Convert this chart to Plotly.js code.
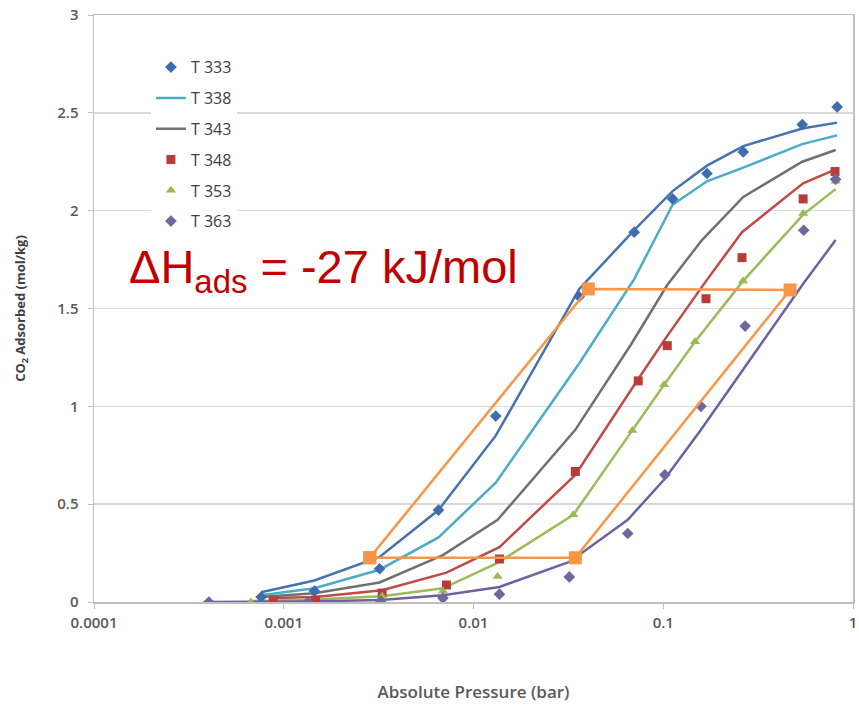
<!DOCTYPE html>
<html>
<head>
<meta charset="utf-8">
<script src="https://cdn.plot.ly/plotly-3.0.1.min.js"></script>
<style>
  html, body { margin: 0; padding: 0; background: #ffffff; }
  #chart { width: 859px; height: 710px; }
</style>
</head>
<body>
<div id="chart"></div>
<script>
// ---- data ----
const seriesNames = ["T 333", "T 338", "T 343", "T 348", "T 353", "T 363"];
const tickVals = [0.0001, 0.001, 0.01, 0.1, 1];
const tickText = ["0.0001", "0.001", "0.01", "0.1", "1"];

// measured points
const p333 = [0.00076, 0.00145, 0.0032, 0.00654, 0.0131, 0.0361, 0.0703, 0.112, 0.17, 0.264, 0.54, 0.825];
const q333 = [0.025, 0.056, 0.17, 0.47, 0.95, 1.56, 1.89, 2.06, 2.19, 2.30, 2.44, 2.53];
const p348 = [0.00088, 0.00147, 0.0033, 0.0072, 0.0137, 0.0344, 0.0738, 0.105, 0.168, 0.26, 0.546, 0.804];
const q348 = [0.005, 0.01, 0.046, 0.087, 0.22, 0.667, 1.13, 1.31, 1.55, 1.76, 2.06, 2.20];
const p353 = [0.00067, 0.00134, 0.0033, 0.0069, 0.0134, 0.0336, 0.0687, 0.101, 0.147, 0.263, 0.546, 0.81];
const q353 = [0.0, 0.0, 0.03, 0.056, 0.13, 0.446, 0.877, 1.11, 1.33, 1.64, 1.985, 2.15];
const p363 = [0.000403, 0.00134, 0.00324, 0.0069, 0.0137, 0.032, 0.065, 0.102, 0.158, 0.27, 0.55, 0.81];
const q363 = [0.0, 0.0, 0.005, 0.02, 0.04, 0.128, 0.35, 0.65, 1.0, 1.41, 1.90, 2.16];

// fitted isotherm lines
const fx333 = [0.00076, 0.00145, 0.0032, 0.00654, 0.0131, 0.0361, 0.0703, 0.112, 0.17, 0.264, 0.54, 0.825];
const fy333 = [0.05, 0.11, 0.23, 0.47, 0.85, 1.60, 1.90, 2.10, 2.23, 2.33, 2.42, 2.45];
const fx338 = [0.00076, 0.00145, 0.0032, 0.00654, 0.0131, 0.0361, 0.0703, 0.112, 0.17, 0.264, 0.54, 0.825];
const fy338 = [0.035, 0.07, 0.165, 0.33, 0.61, 1.22, 1.65, 2.03, 2.15, 2.22, 2.34, 2.385];
const fx343 = [0.00076, 0.00145, 0.0032, 0.0069, 0.0134, 0.0344, 0.068, 0.105, 0.16, 0.264, 0.54, 0.81];
const fy343 = [0.025, 0.045, 0.10, 0.24, 0.42, 0.88, 1.32, 1.62, 1.85, 2.07, 2.25, 2.31];
const fx348 = [0.00088, 0.00147, 0.0033, 0.0072, 0.0137, 0.0344, 0.0738, 0.105, 0.168, 0.26, 0.546, 0.804];
const fy348 = [0.02, 0.025, 0.06, 0.15, 0.28, 0.65, 1.14, 1.36, 1.64, 1.89, 2.14, 2.21];
const fx353 = [0.00067, 0.00134, 0.0033, 0.0069, 0.0134, 0.0336, 0.0687, 0.101, 0.147, 0.263, 0.546, 0.81];
const fy353 = [0.005, 0.012, 0.03, 0.07, 0.20, 0.446, 0.877, 1.11, 1.33, 1.64, 1.98, 2.11];
const fx363 = [0.000403, 0.00134, 0.00324, 0.0069, 0.0137, 0.032, 0.065, 0.102, 0.158, 0.27, 0.55, 0.81];
const fy363 = [0.0, 0.003, 0.01, 0.035, 0.077, 0.205, 0.42, 0.63, 0.88, 1.20, 1.63, 1.85];

// isosteric construction (orange parallelogram)
const isoX = [0.00284, 0.0403, 0.466, 0.0344, 0.00284];
const isoY = [0.226, 1.60, 1.595, 0.226, 0.226];

const annotText = "\u0394H<sub>ads</sub> = -27 kJ/mol";

// ---- styling ----
const C = {
  blue: "#4572B0", teal: "#4BACC6", gray: "#707070",
  red: "#BE4B48", green: "#9BBB59", purple: "#7060A0", orange: "#F79646"
};

function line(x, y, color, name, show, rank) {
  return {
    type: "scatter", mode: "lines", x: x, y: y, name: name,
    line: { color: color, width: 2.5 },
    showlegend: show, legendgroup: name, legendrank: rank, hoverinfo: "skip"
  };
}
function pts(x, y, color, symbol, name, rank, size) {
  return {
    type: "scatter", mode: "markers", x: x, y: y, name: name,
    marker: { color: color, symbol: symbol, size: size },
    showlegend: true, legendgroup: name, legendrank: rank
  };
}

const traces = [
  line(fx333, fy333, C.blue, seriesNames[0], false, 1),
  line(fx338, fy338, C.teal, seriesNames[1], true, 2),
  line(fx343, fy343, C.gray, seriesNames[2], true, 3),
  line(fx348, fy348, C.red, seriesNames[3], false, 4),
  line(fx353, fy353, C.green, seriesNames[4], false, 5),
  line(fx363, fy363, C.purple, seriesNames[5], false, 6),
  pts(p333, q333, "#3E6DAE", "diamond", seriesNames[0], 1, 9),
  pts(p348, q348, "#B83C3A", "square", seriesNames[3], 4, 9),
  pts(p353, q353, "#98B954", "triangle-up", seriesNames[4], 5, 9),
  pts(p363, q363, "#6C6A9C", "diamond", seriesNames[5], 6, 9),
  {
    type: "scatter", mode: "lines+markers", x: isoX, y: isoY,
    line: { color: C.orange, width: 2.5 },
    marker: { color: C.orange, symbol: "square", size: 13 },
    showlegend: false, hoverinfo: "skip"
  }
];

const layout = {
  width: 859, height: 710,
  margin: { l: 94, r: 6, t: 15, b: 108 },
  paper_bgcolor: "#ffffff", plot_bgcolor: "#ffffff",
  font: { family: "Open Sans, sans-serif", color: "#595959", size: 14 },
  showlegend: true,
  legend: {
    x: 0.075, y: 0.94, xanchor: "left", yanchor: "top",
    bgcolor: "#ffffff", borderwidth: 0,
    traceorder: "grouped", tracegroupgap: 7,
    font: { size: 16, color: "#404040" }
  },
  xaxis: {
    type: "log", range: [-4, 0],
    tickvals: tickVals, ticktext: tickText,
    showgrid: false, zeroline: false,
    showline: true, linecolor: "#bfbfbf", linewidth: 1.5, mirror: true,
    ticks: "outside", ticklen: 5, tickcolor: "#bfbfbf",
    ticklabelstandoff: 1,
    tickfont: { size: 15, color: "#595959", weight: 600 },
    title: { text: "Absolute Pressure (bar)", standoff: 55,
             font: { size: 17, color: "#595959", weight: 600 } }
  },
  yaxis: {
    range: [0, 3], dtick: 0.5,
    showgrid: true, gridcolor: "#d9d9d9", gridwidth: 1.5, zeroline: false,
    showline: true, linecolor: "#bfbfbf", linewidth: 1.5, mirror: true,
    ticks: "outside", ticklen: 5, tickcolor: "#bfbfbf",
    ticklabelstandoff: 6,
    tickfont: { size: 15, color: "#595959", weight: 600 },
    title: { text: "CO<sub>2</sub> Adsorbed (mol/kg)", standoff: 28,
             font: { size: 13, color: "#404040", weight: 700 } }
  },
  annotations: [{
    xref: "paper", yref: "paper",
    x: 0.043, y: 0.565, xanchor: "left", yanchor: "middle",
    text: annotText, showarrow: false,
    font: { family: "Liberation Sans, Arial, sans-serif", size: 47, color: "#C00000" }
  }]
};

Plotly.newPlot("chart", traces, layout, { staticPlot: true, displayModeBar: false });
</script>
</body>
</html>
